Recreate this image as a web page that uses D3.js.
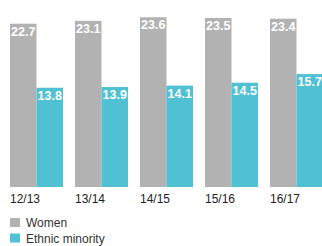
<!DOCTYPE html>
<html><head><meta charset="utf-8">
<script src="https://cdn.jsdelivr.net/npm/d3@7"></script>
<style>html,body{margin:0;padding:0;background:#fff;}svg{display:block;}</style>
</head><body>
<script>
const categories = ["12/13","13/14","14/15","15/16","16/17"];
const women = [22.7,23.1,23.6,23.5,23.4];
const ethnic = [13.8,13.9,14.1,14.5,15.7];
const seriesNames = ["Women","Ethnic minority"];
const colors = ["#b2b2b2","#50c0d3"];

const W=322,H=246;
const svg=d3.select("body").append("svg").attr("width",W).attr("height",H);
const x=d3.scaleBand().domain(categories).range([10,323]).paddingInner(12/65).paddingOuter(0);
const xs=d3.scaleBand().domain([0,1]).range([0,x.bandwidth()]).padding(0);
const y=d3.scaleLinear().domain([0,26]).range([187,0]);
const font="'Liberation Sans', Arial, Helvetica, sans-serif";

const data=categories.map((c,i)=>({c,vals:[women[i],ethnic[i]]}));
const g=svg.selectAll("g.grp").data(data).join("g").attr("transform",d=>`translate(${x(d.c)},0)`);
g.selectAll("rect").data(d=>d.vals).join("rect")
 .attr("x",(v,j)=>xs(j)).attr("width",xs.bandwidth())
 .attr("y",v=>y(v)).attr("height",v=>y(0)-y(v)).attr("fill",(v,j)=>colors[j]);
g.selectAll("text.val").data(d=>d.vals).join("text").attr("class","val")
 .attr("x",(v,j)=>xs(j)+1).attr("y",v=>y(v)+12)
 .attr("fill","#fff").attr("font-family",font).attr("font-size",12.5).attr("font-weight","bold")
 .text(v=>v.toFixed(1));
// category labels
svg.selectAll("text.cat").data(categories).join("text").attr("class","cat")
 .attr("x",d=>x(d)).attr("y",203).attr("fill","#222").attr("font-family",font).attr("font-size",12).text(d=>d);
// legend
const lg=svg.selectAll("g.leg").data(seriesNames).join("g").attr("class","leg")
 .attr("transform",(d,i)=>`translate(10,${218+i*15.5})`);
lg.append("rect").attr("width",10).attr("height",9).attr("fill",(d,i)=>colors[i]);
lg.append("text").attr("x",16).attr("y",9).attr("fill","#333").attr("font-family",font).attr("font-size",12).text(d=>d);
</script>
</body></html>
